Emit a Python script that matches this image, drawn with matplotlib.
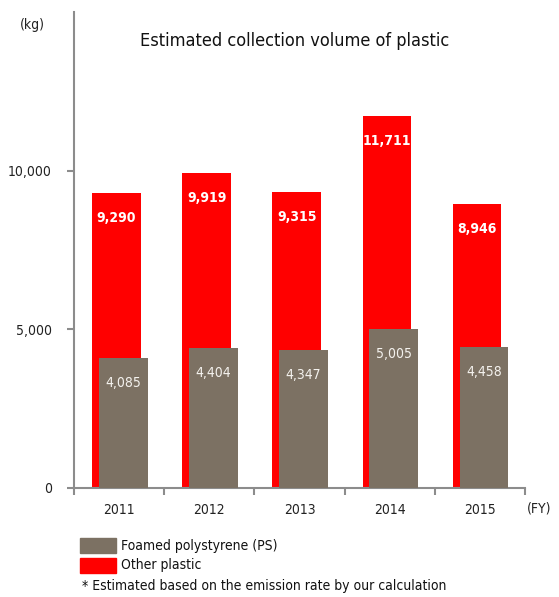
import numpy as np
import matplotlib.pyplot as plt

years = ['2011', '2012', '2013', '2014', '2015']
other_plastic = [9290, 9919, 9315, 11711, 8946]
foamed_ps = [4085, 4404, 4347, 5005, 4458]

RED = '#ff0000'
GRAY = '#7c7163'
AXIS = '#8c8c8c'


def main():
    plt.rcParams['font.family'] = ['DejaVu Sans']
    plt.rcParams['font.stretch'] = 'condensed'
    fig = plt.figure(figsize=(5.59, 5.97), dpi=100)
    ax = fig.add_axes([0.1324, 0.1826, 0.8066, 0.7974])

    x = np.arange(len(years))
    w = 0.54
    ax.bar(x - 0.03, other_plastic, w, color=RED, zorder=2)
    ax.bar(x + 0.045, foamed_ps, w, color=GRAY, zorder=3)

    for xi, v in zip(x, other_plastic):
        ax.annotate(f'{v:,}', (xi - 0.03, v), xytext=(0, -18),
                    textcoords='offset points', ha='center', va='center',
                    color='white', fontsize=10, fontweight='bold', zorder=4)
    for xi, v in zip(x, foamed_ps):
        ax.annotate(f'{v:,}', (xi + 0.045, v), xytext=(0, -18),
                    textcoords='offset points', ha='center', va='center',
                    color='#f4f2ee', fontsize=10, zorder=4)

    ax.set_xlim(-0.5, len(years) - 0.5)
    ax.set_ylim(0, 15000)
    ax.set_yticks([0, 5000, 10000])
    ax.set_yticklabels(['0', '5,000', '10,000'], fontsize=10, color='#222222')
    ax.set_xticks(x)
    ax.set_xticklabels(years, fontsize=10, color='#222222')
    ax.set_xticks(np.arange(-0.5, len(years)), minor=True)
    ax.tick_params(axis='x', which='major', length=0, pad=11)
    ax.tick_params(axis='x', which='minor', length=5, width=1.5, color=AXIS)
    ax.tick_params(axis='y', length=5, width=1.5, color=AXIS, pad=11)

    for s in ['top', 'right']:
        ax.spines[s].set_visible(False)
    for s in ['left', 'bottom']:
        ax.spines[s].set_color(AXIS)
        ax.spines[s].set_linewidth(1.5)

    fig.text(0.036, 0.958, '(kg)', fontsize=10, color='#222222', va='center')
    fig.text(0.942, 0.149, '(FY)', fontsize=10, color='#222222', va='center')
    fig.text(0.527, 0.932, 'Estimated collection volume of plastic',
             fontsize=13, ha='center', va='center', color='#111111')

    # legend drawn by hand
    fig.patches.append(plt.Rectangle((0.143, 0.073), 0.065, 0.026,
                                     color=GRAY, transform=fig.transFigure))
    fig.patches.append(plt.Rectangle((0.143, 0.040), 0.065, 0.026,
                                     color=RED, transform=fig.transFigure))
    fig.text(0.216, 0.0855, 'Foamed polystyrene (PS)', fontsize=10,
             va='center', color='#111111')
    fig.text(0.216, 0.0535, 'Other plastic', fontsize=10,
             va='center', color='#111111')
    fig.text(0.147, 0.0185, '* Estimated based on the emission rate by our calculation',
             fontsize=10, va='center', color='#111111')

    fig.savefig('out.png', dpi=100)


if __name__ == '__main__':
    main()
